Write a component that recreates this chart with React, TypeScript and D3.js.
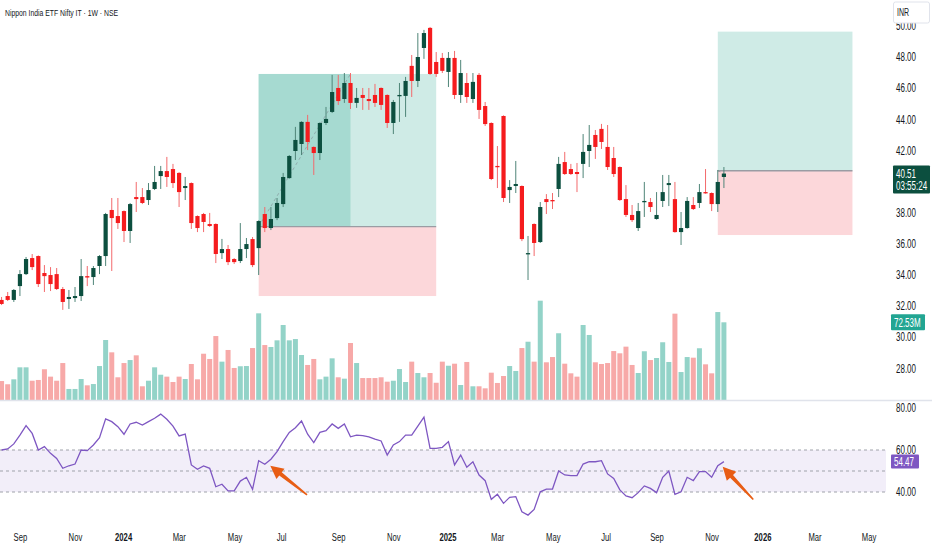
import * as d3 from "d3"

const W = 932
const H = 550

// weekly candles, first bar on 2023-08-14
const firstWeek = new Date(2023, 7, 14)

const opens = [
  32.39, 32.64, 32.39, 33.28, 34.05, 35.08, 35.21, 34.12, 33.99, 34.05,
  33.09, 32.45, 32.51, 32.64, 33.92, 33.86, 34.57, 35.21, 38.17, 37.78,
  38.1, 36.82, 39.0, 39.0, 38.81, 39.52, 40.35, 40.67, 40.8, 40.55,
  39.58, 39.9, 37.78, 37.91, 37.27, 37.27, 35.4, 35.66, 35.02, 34.89,
  35.66, 36.3, 35.72, 37.91, 37.01, 37.65, 38.55, 40.22, 41.96, 42.41,
  43.83, 42.22, 41.83, 43.76, 44.47, 46.01, 45.3, 46.33, 45.05, 45.56,
  45.3, 45.56, 46.01, 45.56, 43.76, 45.5, 45.5, 47.43, 46.46, 48.58,
  49.87, 47.68, 47.94, 47.04, 47.94, 45.56, 46.33, 45.3, 46.85, 44.85,
  43.76, 41.0, 44.21, 39.45, 39.71, 39.71, 35.34, 37.27, 36.11, 38.87,
  38.81, 39.52, 41.25, 40.8, 40.61, 41.13, 41.96, 42.99, 43.38, 42.22,
  41.51, 40.93, 38.87, 37.85, 37.01, 38.68, 38.68, 37.59, 38.75, 39.77,
  38.87, 36.75, 37.01, 38.49, 38.62, 39.32, 39.26, 38.55, 40.29,
]
const highs = [
  32.58, 32.9, 33.09, 34.31, 35.15, 35.34, 35.25, 34.63, 34.5, 34.44,
  33.22, 33.03, 33.22, 35.02, 34.57, 34.57, 35.27, 37.98, 38.94, 38.94,
  38.14, 38.62, 39.97, 39.58, 39.9, 41.0, 41.0, 41.58, 41.13, 40.6,
  40.29, 39.94, 37.82, 37.98, 37.98, 37.31, 36.31, 35.92, 35.08, 37.33,
  36.37, 36.43, 37.5, 38.36, 38.36, 38.94, 40.55, 41.7, 43.51, 43.87,
  44.28, 42.26, 43.8, 44.79, 46.85, 46.85, 46.97, 46.97, 46.01, 46.01,
  46.01, 46.27, 46.05, 45.6, 45.24, 46.33, 46.72, 48.13, 49.54, 49.74,
  49.93, 48.32, 48.26, 48.32, 48.39, 47.81, 46.97, 46.97, 46.97, 45.11,
  43.8, 42.28, 44.25, 40.09, 41.32, 39.75, 36.5, 37.31, 38.68, 39.19,
  39.26, 41.58, 41.9, 41.13, 41.19, 43.05, 43.63, 43.31, 43.7, 43.63,
  42.22, 40.97, 39.77, 38.49, 38.62, 39.97, 38.94, 39.32, 40.42, 40.42,
  39.97, 38.04, 39.0, 39.0, 39.84, 40.8, 39.3, 40.74, 40.93,
]
const lows = [
  32.06, 32.32, 32.26, 32.64, 33.99, 34.31, 33.22, 32.9, 32.96, 33.03,
  31.75, 31.81, 32.26, 32.32, 33.28, 33.35, 34.05, 34.57, 34.25, 36.95,
  36.11, 36.05, 38.04, 38.55, 38.49, 39.45, 39.52, 39.65, 39.58, 38.36,
  38.81, 36.95, 36.75, 36.75, 37.08, 34.76, 35.02, 34.63, 34.7, 34.76,
  35.08, 34.5, 33.99, 36.75, 36.88, 37.52, 38.36, 40.18, 41.38, 41.7,
  42.02, 40.42, 41.38, 43.63, 44.4, 44.92, 45.05, 44.66, 44.73, 44.6,
  44.6, 44.79, 44.6, 43.44, 43.05, 43.83, 44.15, 45.43, 46.07, 47.88,
  46.85, 46.72, 46.97, 46.07, 45.3, 45.05, 45.05, 45.05, 44.02, 43.57,
  40.09, 39.58, 38.68, 38.62, 39.26, 36.17, 33.67, 35.21, 36.05, 37.91,
  38.23, 39.0, 40.42, 40.42, 39.32, 40.22, 40.93, 41.45, 42.09, 40.74,
  40.29, 38.75, 37.72, 37.4, 36.82, 37.72, 38.04, 37.55, 38.36, 38.42,
  36.71, 35.92, 36.97, 38.17, 38.3, 39.22, 38.1, 38.04, 39.58,
]
const closes = [
  32.13, 32.39, 33.03, 34.05, 35.02, 34.5, 33.41, 33.92, 33.41, 33.09,
  32.26, 32.58, 32.64, 33.92, 33.83, 34.44, 35.21, 37.91, 37.65, 37.33,
  36.82, 38.55, 38.87, 38.62, 39.45, 39.97, 40.67, 40.29, 39.9, 39.32,
  39.71, 37.33, 37.01, 37.4, 37.14, 35.34, 35.66, 34.82, 34.82, 35.66,
  35.98, 34.63, 37.46, 37.01, 37.59, 38.62, 40.29, 41.64, 42.67, 43.83,
  42.54, 41.83, 43.76, 44.02, 45.75, 45.17, 46.33, 45.05, 45.37, 45.37,
  45.17, 45.05, 44.92, 43.76, 45.11, 45.56, 46.46, 46.46, 48.0, 49.54,
  46.91, 46.91, 47.11, 47.94, 45.56, 46.97, 45.43, 46.4, 44.6, 43.69,
  40.16, 40.93, 38.94, 39.65, 39.84, 36.3, 35.4, 36.05, 38.36, 38.68,
  38.75, 41.13, 40.48, 40.48, 40.48, 41.9, 42.35, 42.22, 42.54, 40.93,
  40.48, 38.81, 37.85, 37.52, 38.1, 38.75, 38.36, 37.85, 39.32, 39.9,
  36.75, 37.01, 38.75, 38.23, 39.32, 39.26, 38.55, 39.97, 40.51,
]
// volume, millions
const volumes = [
  17.7, 14.7, 19.3, 30.5, 30.5, 18.0, 18.7, 28.7, 21.8, 18.0,
  34.5, 10.3, 10.3, 19.6, 13.7, 14.9, 31.7, 56.0, 44.5, 21.2,
  34.5, 37.3, 41.7, 12.8, 18.0, 30.5, 23.6, 21.8, 16.8, 21.8,
  19.6, 33.6, 19.3, 43.2, 38.3, 59.7, 35.8, 46.7, 29.9, 31.5,
  31.7, 48.5, 80.9, 51.3, 49.5, 55.7, 70.0, 55.7, 56.9, 42.0,
  32.7, 38.3, 19.3, 21.8, 38.9, 21.2, 19.9, 53.2, 34.5, 20.5,
  20.5, 20.5, 21.2, 17.1, 18.0, 28.9, 16.8, 35.8, 25.2, 21.2,
  25.2, 16.1, 35.8, 32.0, 33.9, 14.0, 35.5, 12.8, 12.8, 10.9,
  25.5, 15.9, 22.4, 31.7, 27.1, 48.5, 54.4, 35.8, 92.7, 35.2,
  40.1, 62.3, 33.9, 24.9, 21.8, 70.0, 60.7, 35.2, 33.6, 34.5,
  45.7, 43.6, 49.8, 32.7, 25.2, 45.5, 37.3, 39.2, 53.9, 35.5,
  80.6, 26.1, 40.1, 39.5, 48.3, 33.3, 24.9, 82.1, 72.53,
]
const rsi = [
  60.0, 60.5, 62.9, 67.1, 71.6, 67.9, 60.0, 61.6, 58.4, 56.0,
  51.3, 52.5, 53.3, 60.0, 59.7, 62.4, 65.9, 74.8, 73.5, 71.1,
  67.5, 72.4, 73.2, 71.9, 73.5, 75.1, 77.1, 74.6, 71.4, 66.7,
  67.6, 52.9, 50.8, 52.4, 51.3, 42.5, 43.7, 40.5, 40.5, 45.2,
  47.0, 41.3, 54.9, 53.2, 55.6, 59.2, 64.0, 68.4, 70.6, 73.8,
  67.5, 63.5, 68.4, 69.2, 72.4, 70.3, 72.4, 66.3, 67.1, 66.8,
  66.3, 65.2, 64.3, 57.6, 62.4, 64.0, 67.1, 67.1, 71.4, 75.6,
  60.8, 60.8, 61.3, 64.0, 52.9, 57.6, 51.8, 54.4, 48.1, 45.4,
  36.5, 38.9, 34.6, 37.5, 37.8, 30.6, 29.0, 31.7, 40.1, 41.4,
  41.4, 50.0, 48.1, 47.8, 47.8, 53.3, 54.4, 54.4, 54.9, 48.6,
  46.5, 41.0, 38.1, 37.3, 39.7, 42.9, 41.7, 39.7, 47.0, 50.0,
  38.9, 40.1, 47.0, 45.4, 49.7, 49.7, 47.0, 52.5, 54.47,
]

const tickDates = [
  "2023-09-04", "2023-11-06", "2024-01-01", "2024-03-04", "2024-05-06", "2024-07-01",
  "2024-09-02", "2024-11-04", "2025-01-06", "2025-03-03", "2025-05-05", "2025-07-07",
  "2025-09-01", "2025-11-03", "2026-01-01", "2026-03-01", "2026-05-01",
]
const tickLabels = [
  "Sep", "Nov", "2024", "Mar", "May", "Jul", "Sep", "Nov", "2025",
  "Mar", "May", "Jul", "Sep", "Nov", "2026", "Mar", "May",
]
const priceTicks = [28, 30, 32, 34, 36, 38, 42, 44, 46, 48, 50]
const rsiTicks = [40, 60, 80]
const rsiLevels = [40, 50, 60]

// long position tools (bar indexes and prices)
const positions = [
  { from: 42, split: 57, to: 71, target: 46.91, entry: 37.1, stop: 32.64 },
  { from: 117, split: 117, to: 139, target: 49.63, entry: 40.69, stop: 36.56 },
]
// arrows drawn on the RSI pane: [bar, rsi] tail -> tip
const arrows = [
  { tail: [49.9, 38.6], tip: [43.9, 52.5] },
  { tail: [122.8, 36.4], tip: [117.8, 52.0] },
]

const lastPrice = 40.51
const lastVolume = 72.53
const lastRsi = 54.47
const countdown = "03:55:24"

const UP = "#0c4f3f"
const DOWN = "#f51c1e"
const UP_WICK = "#4f8578"
const DOWN_WICK = "#f36a6c"
const VOL_UP = "#93d3c8"
const VOL_DOWN = "#f7a9a8"
const FONT = "'Liberation Sans', Arial, sans-serif"
const SX = 0.667

const parse = d3.timeParse("%Y-%m-%d")
const barDate = (i: number) => new Date(firstWeek.getTime() + i * 7 * 86400000)

const x = d3
  .scaleTime()
  .domain([new Date(2024, 0, 1), new Date(2025, 0, 1)])
  .range([124, 124 + 366 * 0.8745])
const xi = (i: number) => x(barDate(i))

const yP = d3.scaleLinear().domain([32, 48]).range([306, 57])
const yV = d3.scaleLinear().domain([0, lastVolume]).range([400, 322.3])
const yR = d3.scaleLinear().domain([40, 60]).range([492, 450])

const PANE_R = 886

function Label({ x, y, children, size = 12, weight = 400, fill = "#131722" }: any) {
  return (
    <text
      transform={`translate(${x},${y}) scale(${SX},1)`}
      fontSize={size}
      fontWeight={weight}
      fill={fill}
      fontFamily={FONT}
    >
      {children}
    </text>
  )
}

function Arrow({ tail, tip }: { tail: number[]; tip: number[] }) {
  const x0 = xi(tail[0])
  const y0 = yR(tail[1])
  const x1 = xi(tip[0])
  const y1 = yR(tip[1])
  const len = Math.hypot(x1 - x0, y1 - y0)
  const ux = (x1 - x0) / len
  const uy = (y1 - y0) / len
  const px = -uy
  const py = ux
  const head = 13
  const bx = x1 - ux * head
  const by = y1 - uy * head
  const pts = [
    [x0 + px * 0.8, y0 + py * 0.8],
    [bx + px * 2, by + py * 2],
    [bx + px * 6.5, by + py * 6.5],
    [x1, y1],
    [bx - px * 6.5, by - py * 6.5],
    [bx - px * 2, by - py * 2],
    [x0 - px * 0.8, y0 - py * 0.8],
  ]
  return <polygon points={pts.map((p) => p.join(",")).join(" ")} fill="#e85d14" />
}

export default function App() {
  const bodyW = 4.2
  const volW = 5
  const rsiLine = d3
    .line<number>()
    .x((_, i) => xi(i))
    .y((d) => yR(d))

  return (
    <div style={{ position: "absolute", left: 0, top: 0 }}>
      <svg width={W} height={H} style={{ display: "block", background: "#fff" }}>
        {/* volume */}
        <g>
          {volumes.map((v, i) => (
            <rect
              key={i}
              x={xi(i) - volW / 2}
              y={yV(v)}
              width={volW}
              height={yV(0) - yV(v)}
              fill={closes[i] >= opens[i] ? VOL_UP : VOL_DOWN}
            />
          ))}
        </g>

        {/* position tools */}
        {positions.map((p, k) => {
          const xa = xi(p.from)
          const xs = xi(p.split)
          const xb = xi(p.to)
          const yt = yP(p.target)
          const ye = yP(p.entry)
          const ys = yP(p.stop)
          const endX = k === 0 ? xs : xi(closes.length - 1)
          const endY = k === 0 ? yt : yP(lastPrice)
          return (
            <g key={k}>
              <rect x={xa} y={yt} width={xb - xa} height={ye - yt} fill="#cfebe6" />
              {xs > xa && <rect x={xa} y={yt} width={xs - xa} height={ye - yt} fill="#a6dad1" />}
              <rect x={xa} y={ye} width={xb - xa} height={ys - ye} fill="#fcd7da" />
              <line x1={xa} x2={xb} y1={ye} y2={ye} stroke="#9a9ca3" strokeWidth={1.4} />
              <line
                x1={xa}
                y1={ye}
                x2={endX}
                y2={endY}
                stroke="#787b86"
                strokeWidth={0.8}
                strokeDasharray="3,3"
                opacity={0.6}
              />
            </g>
          )
        })}

        {/* candles */}
        <g>
          {opens.map((o, i) => {
            const c = closes[i]
            const up = c >= o
            const cx = xi(i)
            const top = yP(Math.max(o, c))
            const bh = Math.max(1.3, Math.abs(yP(o) - yP(c)))
            return (
              <g key={i}>
                <line
                  x1={cx}
                  x2={cx}
                  y1={yP(highs[i])}
                  y2={yP(lows[i])}
                  stroke={up ? UP_WICK : DOWN_WICK}
                  strokeWidth={1}
                />
                <rect x={cx - bodyW / 2} y={top} width={bodyW} height={bh} fill={up ? UP : DOWN} />
              </g>
            )
          })}
        </g>

        {/* pane separator */}
        <line x1={0} x2={W} y1={400.5} y2={400.5} stroke="#e0e3eb" strokeWidth={1.5} />

        {/* RSI pane */}
        <rect x={0} y={yR(60)} width={PANE_R} height={yR(40) - yR(60)} fill="#f2eef9" />
        {rsiLevels.map((l) => (
          <line
            key={l}
            x1={0}
            x2={PANE_R}
            y1={yR(l)}
            y2={yR(l)}
            stroke="#9fa2aa"
            strokeWidth={1}
            strokeDasharray="3,3"
          />
        ))}
        <path d={rsiLine(rsi) || ""} fill="none" stroke="#7e57c2" strokeWidth={1.3} />

        {arrows.map((a, k) => (
          <Arrow key={k} tail={a.tail} tip={a.tip} />
        ))}

        {/* title */}
        <text
          x={5}
          y={15.5}
          fontSize={9.5}
          fill="#131722"
          fontFamily={FONT}
          textLength={113}
          lengthAdjust="spacingAndGlyphs"
        >
          Nippon India ETF Nifty IT · 1W · NSE
        </text>

        {/* price axis */}
        {priceTicks.map((t) => (
          <Label key={t} x={896} y={yP(t) + 4.3}>
            {t.toFixed(2)}
          </Label>
        ))}
        {rsiTicks.map((t) => (
          <Label key={t} x={896} y={yR(t) + 4.3}>
            {t.toFixed(2)}
          </Label>
        ))}

        {/* INR box */}
        <rect x={893.5} y={2} width={36} height={21} rx={2} fill="#fff" stroke="#e0e3eb" />
        <Label x={897} y={16} size={10.5}>
          INR
        </Label>

        {/* last price */}
        <rect x={893} y={yP(lastPrice) - 8} width={37} height={28} rx={1} fill={UP} />
        <Label x={896} y={yP(lastPrice) + 4} size={12} fill="#fff">
          {lastPrice.toFixed(2)}
        </Label>
        <Label x={896} y={yP(lastPrice) + 16} size={12} fill="#fff">
          {countdown}
        </Label>

        {/* last volume */}
        <rect x={891} y={yV(lastVolume) - 8} width={34} height={16} rx={1} fill="#22a592" />
        <Label x={894} y={yV(lastVolume) + 4.3} size={12} fill="#fff">
          {lastVolume.toFixed(2)}M
        </Label>

        {/* last RSI */}
        <rect x={891} y={yR(lastRsi) - 7} width={28} height={14} rx={1} fill="#7e57c2" />
        <Label x={894} y={yR(lastRsi) + 4.3} size={12} fill="#fff">
          {lastRsi.toFixed(2)}
        </Label>

        {/* time axis */}
        {tickDates.map((d, k) => {
          const lbl = tickLabels[k]
          const bold = /^\d{4}$/.test(lbl)
          const tx = x(parse(d) as Date)
          const w = (bold ? 26.7 : lbl.length * 6.4) * SX
          return (
            <Label key={k} x={tx - w / 2} y={540.5} size={11.5} weight={bold ? 700 : 400}>
              {lbl}
            </Label>
          )
        })}
      </svg>
    </div>
  )
}
